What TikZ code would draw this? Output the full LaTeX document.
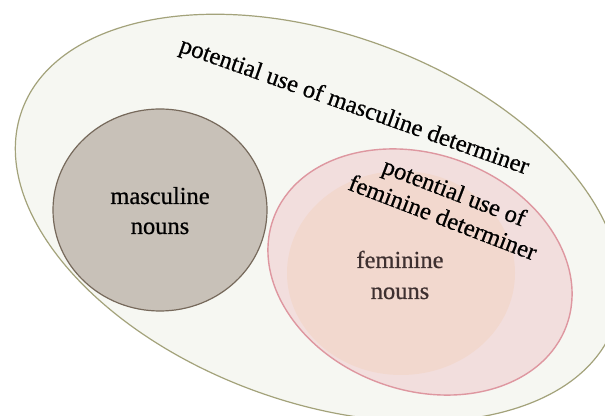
\documentclass[tikz,border=0pt]{standalone}
\usepackage{fontspec}
\setmainfont{Liberation Serif}
\newfontfamily\lblfont{Liberation Serif}[BoldFont=Liberation Serif,BoldFeatures={FakeBold=0.6}]
\usetikzlibrary{shapes.geometric}
\definecolor{outerfill}{HTML}{F6F7F2}
\definecolor{outerline}{HTML}{A3A27A}
\definecolor{mascfill}{HTML}{C8C1B8}
\definecolor{mascline}{HTML}{76695B}
\definecolor{femfill}{HTML}{F2DEDD}
\definecolor{femline}{HTML}{DE97A0}
\definecolor{corefill}{HTML}{F2D8CE}
\definecolor{femtext}{HTML}{3E3030}

\begin{document}
\begin{tikzpicture}[x=1pt,y=1pt,
    set/.style={ellipse,inner sep=0pt,outer sep=0pt,line width=1.2pt},
    lbl/.style={font=\lblfont\bfseries\fontsize{24.5}{30}\selectfont,anchor=base,inner sep=0pt}]
        \clip (0,0) rectangle (605,415);
        \fill[white] (0,0) rectangle (605,415);
        % sets
        \node[set,draw=outerline,fill=outerfill,minimum width=630pt,minimum height=368pt,rotate=-20] (universe) at (318,197) {};
        \node[set,draw=mascline,fill=mascfill,minimum width=214pt,minimum height=202pt] (masc) at (160,205) {};
        \node[set,draw=femline,fill=femfill,line width=1.4pt,minimum width=312pt,minimum height=236pt,rotate=-20] (fem) at (420,143) {};
        \node[set,fill=corefill,minimum width=228pt,minimum height=204pt] (femcore) at (401,142) {};
        % labels
        \node[lbl] (masc1) at (160,211) {masculine};
        \node[lbl] (masc2) at (160,181) {nouns};
        \node[lbl,text=femtext] (fem1) at (400,147) {feminine};
        \node[lbl,text=femtext] (fem2) at (400,116) {nouns};
        \node[lbl,rotate=-19.5] (mdet) at (352,302) {potential use of masculine determiner};
        \node[lbl,rotate=-21] (fdet1) at (451.5,215.5) {potential use of};
        \node[lbl,rotate=-21] (fdet2) at (440,190) {feminine determiner};
    \end{tikzpicture}
\end{document}
